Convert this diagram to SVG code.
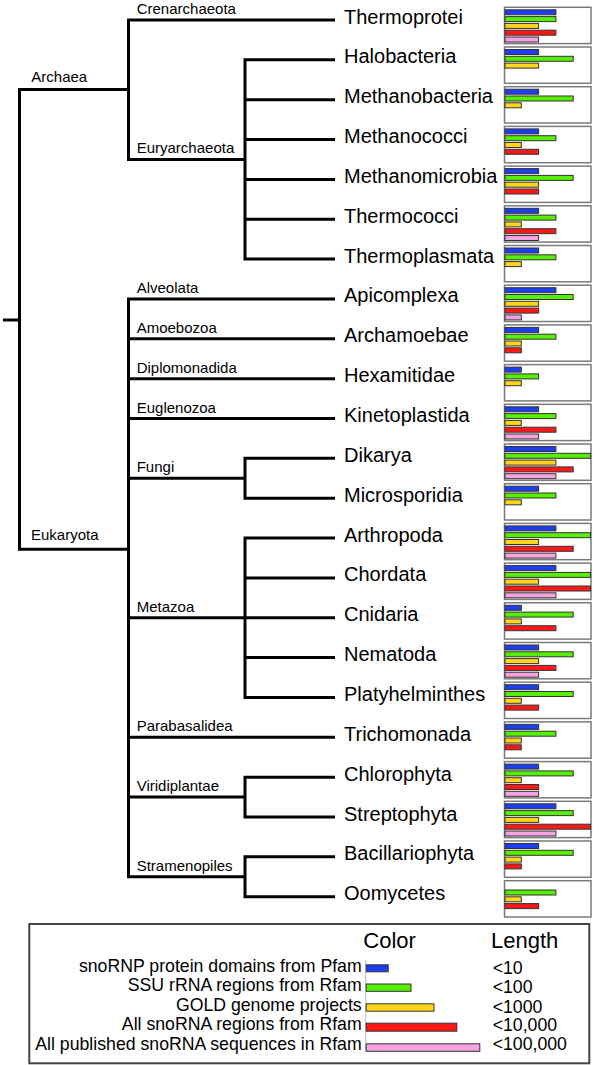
<svg xmlns="http://www.w3.org/2000/svg" width="600" height="1065" viewBox="0 0 600 1065">
<style>
text{font-family:"Liberation Sans",Arial,Helvetica,sans-serif;fill:#000}
.leaf{font-size:20px}
.clade{font-size:15px}
.lg{font-size:17.7px}
.hd{font-size:22px}
.tree path{fill:none;stroke:#000;stroke-width:3;stroke-linejoin:miter;stroke-linecap:butt}
.bx{fill:#fff;stroke:#7a7a7a;stroke-width:1.5}
.c1,.c2,.c3,.c4,.c5{stroke:#333;stroke-width:1}
.c1{fill:#1e3ff0}
.c2{fill:#55f000}
.c3{fill:#ffd51c}
.c4{fill:#ff1818}
.c5{fill:#f7a3e3}
</style>
<rect width="600" height="1065" fill="#fff"/>
<g id="connectors" class="tree">
<path d="M3,320 H19.5"/>
<path d="M128.5,89.5 H19.5 V549.3 H128.5"/>
<path d="M335,20 H128.5 V159.4 H245"/>
<path d="M335,59.85 H245 V259.1 H335"/>
<path d="M245,99.7 H335 M245,139.55 H335 M245,179.4 H335 M245,219.25 H335"/>
<path d="M335,298.95 H128.5 V876.7 H245"/>
<path d="M128.5,338.8 H335 M128.5,378.65 H335 M128.5,418.5 H335 M128.5,737.3 H335 M128.5,478.3 H245 M128.5,617.75 H335 M128.5,797.1 H245"/>
<path d="M335,458.35 H245 V498.2 H335"/>
<path d="M335,538.05 H245 V697.45 H335"/>
<path d="M245,577.9 H335 M245,657.6 H335"/>
<path d="M335,777.15 H245 V817 H335"/>
<path d="M335,856.85 H245 V896.7 H335"/>
</g>
<g id="clade-labels" class="clade">
<text x="31.3" y="82">Archaea</text>
<text x="31" y="540">Eukaryota</text>
<text x="136.7" y="14">Crenarchaeota</text>
<text x="136.7" y="153.4">Euryarchaeota</text>
<text x="136.7" y="293">Alveolata</text>
<text x="136.7" y="332.8">Amoebozoa</text>
<text x="136.7" y="372.7">Diplomonadida</text>
<text x="136.7" y="412.5">Euglenozoa</text>
<text x="136.7" y="472.3">Fungi</text>
<text x="136.7" y="611.8">Metazoa</text>
<text x="136.7" y="731.3">Parabasalidea</text>
<text x="136.7" y="791.1">Viridiplantae</text>
<text x="136.7" y="870.7">Stramenopiles</text>
</g>
<g id="thermoprotei"><text class="leaf" x="344" y="23.5">Thermoprotei</text><g transform="translate(504.5,7.3)"><rect class="bx" width="86.5" height="36.3"/><rect class="c1" x="0.5" y="2.5" width="50.9" height="5"/><rect class="c2" x="0.5" y="9.3" width="50.9" height="5"/><rect class="c3" x="0.5" y="16.1" width="33.6" height="5"/><rect class="c4" x="0.5" y="22.9" width="50.9" height="5"/><rect class="c5" x="0.5" y="29.7" width="33.6" height="5"/></g></g>
<g id="halobacteria"><text class="leaf" x="344" y="63.35">Halobacteria</text><g transform="translate(504.5,47)"><rect class="bx" width="86.5" height="36.3"/><rect class="c1" x="0.5" y="2.5" width="33.6" height="5"/><rect class="c2" x="0.5" y="9.3" width="68.2" height="5"/><rect class="c3" x="0.5" y="16.1" width="33.6" height="5"/></g></g>
<g id="methanobacteria"><text class="leaf" x="344" y="103.2">Methanobacteria</text><g transform="translate(504.5,86.7)"><rect class="bx" width="86.5" height="36.3"/><rect class="c1" x="0.5" y="2.5" width="33.6" height="5"/><rect class="c2" x="0.5" y="9.3" width="68.2" height="5"/><rect class="c3" x="0.5" y="16.1" width="16.3" height="5"/></g></g>
<g id="methanococci"><text class="leaf" x="344" y="143.05">Methanococci</text><g transform="translate(504.5,126.4)"><rect class="bx" width="86.5" height="36.3"/><rect class="c1" x="0.5" y="2.5" width="33.6" height="5"/><rect class="c2" x="0.5" y="9.3" width="50.9" height="5"/><rect class="c3" x="0.5" y="16.1" width="16.3" height="5"/><rect class="c4" x="0.5" y="22.9" width="33.6" height="5"/></g></g>
<g id="methanomicrobia"><text class="leaf" x="344" y="182.9">Methanomicrobia</text><g transform="translate(504.5,166.1)"><rect class="bx" width="86.5" height="36.3"/><rect class="c1" x="0.5" y="2.5" width="33.6" height="5"/><rect class="c2" x="0.5" y="9.3" width="68.2" height="5"/><rect class="c3" x="0.5" y="16.1" width="33.6" height="5"/><rect class="c4" x="0.5" y="22.9" width="33.6" height="5"/></g></g>
<g id="thermococci"><text class="leaf" x="344" y="222.75">Thermococci</text><g transform="translate(504.5,205.8)"><rect class="bx" width="86.5" height="36.3"/><rect class="c1" x="0.5" y="2.5" width="33.6" height="5"/><rect class="c2" x="0.5" y="9.3" width="50.9" height="5"/><rect class="c3" x="0.5" y="16.1" width="16.3" height="5"/><rect class="c4" x="0.5" y="22.9" width="50.9" height="5"/><rect class="c5" x="0.5" y="29.7" width="33.6" height="5"/></g></g>
<g id="thermoplasmata"><text class="leaf" x="344" y="262.6">Thermoplasmata</text><g transform="translate(504.5,245.5)"><rect class="bx" width="86.5" height="36.3"/><rect class="c1" x="0.5" y="2.5" width="33.6" height="5"/><rect class="c2" x="0.5" y="9.3" width="50.9" height="5"/><rect class="c3" x="0.5" y="16.1" width="16.3" height="5"/></g></g>
<g id="apicomplexa"><text class="leaf" x="344" y="302.45">Apicomplexa</text><g transform="translate(504.5,285.2)"><rect class="bx" width="86.5" height="36.3"/><rect class="c1" x="0.5" y="2.5" width="50.9" height="5"/><rect class="c2" x="0.5" y="9.3" width="68.2" height="5"/><rect class="c3" x="0.5" y="16.1" width="33.6" height="5"/><rect class="c4" x="0.5" y="22.9" width="33.6" height="5"/><rect class="c5" x="0.5" y="29.7" width="16.3" height="5"/></g></g>
<g id="archamoebae"><text class="leaf" x="344" y="342.3">Archamoebae</text><g transform="translate(504.5,324.9)"><rect class="bx" width="86.5" height="36.3"/><rect class="c1" x="0.5" y="2.5" width="33.6" height="5"/><rect class="c2" x="0.5" y="9.3" width="50.9" height="5"/><rect class="c3" x="0.5" y="16.1" width="16.3" height="5"/><rect class="c4" x="0.5" y="22.9" width="16.3" height="5"/></g></g>
<g id="hexamitidae"><text class="leaf" x="344" y="382.15">Hexamitidae</text><g transform="translate(504.5,364.6)"><rect class="bx" width="86.5" height="36.3"/><rect class="c1" x="0.5" y="2.5" width="16.3" height="5"/><rect class="c2" x="0.5" y="9.3" width="33.6" height="5"/><rect class="c3" x="0.5" y="16.1" width="16.3" height="5"/></g></g>
<g id="kinetoplastida"><text class="leaf" x="344" y="422">Kinetoplastida</text><g transform="translate(504.5,404.3)"><rect class="bx" width="86.5" height="36.3"/><rect class="c1" x="0.5" y="2.5" width="33.6" height="5"/><rect class="c2" x="0.5" y="9.3" width="50.9" height="5"/><rect class="c3" x="0.5" y="16.1" width="16.3" height="5"/><rect class="c4" x="0.5" y="22.9" width="50.9" height="5"/><rect class="c5" x="0.5" y="29.7" width="33.6" height="5"/></g></g>
<g id="dikarya"><text class="leaf" x="344" y="461.85">Dikarya</text><g transform="translate(504.5,444)"><rect class="bx" width="86.5" height="36.3"/><rect class="c1" x="0.5" y="2.5" width="50.9" height="5"/><rect class="c2" x="0.5" y="9.3" width="85.5" height="5"/><rect class="c3" x="0.5" y="16.1" width="50.9" height="5"/><rect class="c4" x="0.5" y="22.9" width="68.2" height="5"/><rect class="c5" x="0.5" y="29.7" width="50.9" height="5"/></g></g>
<g id="microsporidia"><text class="leaf" x="344" y="501.7">Microsporidia</text><g transform="translate(504.5,483.7)"><rect class="bx" width="86.5" height="36.3"/><rect class="c1" x="0.5" y="2.5" width="33.6" height="5"/><rect class="c2" x="0.5" y="9.3" width="50.9" height="5"/><rect class="c3" x="0.5" y="16.1" width="16.3" height="5"/></g></g>
<g id="arthropoda"><text class="leaf" x="344" y="541.55">Arthropoda</text><g transform="translate(504.5,523.4)"><rect class="bx" width="86.5" height="36.3"/><rect class="c1" x="0.5" y="2.5" width="50.9" height="5"/><rect class="c2" x="0.5" y="9.3" width="85.5" height="5"/><rect class="c3" x="0.5" y="16.1" width="33.6" height="5"/><rect class="c4" x="0.5" y="22.9" width="68.2" height="5"/><rect class="c5" x="0.5" y="29.7" width="50.9" height="5"/></g></g>
<g id="chordata"><text class="leaf" x="344" y="581.4">Chordata</text><g transform="translate(504.5,563.1)"><rect class="bx" width="86.5" height="36.3"/><rect class="c1" x="0.5" y="2.5" width="50.9" height="5"/><rect class="c2" x="0.5" y="9.3" width="85.5" height="5"/><rect class="c3" x="0.5" y="16.1" width="33.6" height="5"/><rect class="c4" x="0.5" y="22.9" width="85.5" height="5"/><rect class="c5" x="0.5" y="29.7" width="50.9" height="5"/></g></g>
<g id="cnidaria"><text class="leaf" x="344" y="621.25">Cnidaria</text><g transform="translate(504.5,602.8)"><rect class="bx" width="86.5" height="36.3"/><rect class="c1" x="0.5" y="2.5" width="16.3" height="5"/><rect class="c2" x="0.5" y="9.3" width="68.2" height="5"/><rect class="c3" x="0.5" y="16.1" width="16.3" height="5"/><rect class="c4" x="0.5" y="22.9" width="50.9" height="5"/></g></g>
<g id="nematoda"><text class="leaf" x="344" y="661.1">Nematoda</text><g transform="translate(504.5,642.5)"><rect class="bx" width="86.5" height="36.3"/><rect class="c1" x="0.5" y="2.5" width="33.6" height="5"/><rect class="c2" x="0.5" y="9.3" width="68.2" height="5"/><rect class="c3" x="0.5" y="16.1" width="33.6" height="5"/><rect class="c4" x="0.5" y="22.9" width="50.9" height="5"/><rect class="c5" x="0.5" y="29.7" width="33.6" height="5"/></g></g>
<g id="platyhelminthes"><text class="leaf" x="344" y="700.95">Platyhelminthes</text><g transform="translate(504.5,682.2)"><rect class="bx" width="86.5" height="36.3"/><rect class="c1" x="0.5" y="2.5" width="33.6" height="5"/><rect class="c2" x="0.5" y="9.3" width="68.2" height="5"/><rect class="c3" x="0.5" y="16.1" width="16.3" height="5"/><rect class="c4" x="0.5" y="22.9" width="33.6" height="5"/></g></g>
<g id="trichomonada"><text class="leaf" x="344" y="740.8">Trichomonada</text><g transform="translate(504.5,721.9)"><rect class="bx" width="86.5" height="36.3"/><rect class="c1" x="0.5" y="2.5" width="33.6" height="5"/><rect class="c2" x="0.5" y="9.3" width="50.9" height="5"/><rect class="c3" x="0.5" y="16.1" width="16.3" height="5"/><rect class="c4" x="0.5" y="22.9" width="16.3" height="5"/></g></g>
<g id="chlorophyta"><text class="leaf" x="344" y="780.65">Chlorophyta</text><g transform="translate(504.5,761.6)"><rect class="bx" width="86.5" height="36.3"/><rect class="c1" x="0.5" y="2.5" width="33.6" height="5"/><rect class="c2" x="0.5" y="9.3" width="68.2" height="5"/><rect class="c3" x="0.5" y="16.1" width="16.3" height="5"/><rect class="c4" x="0.5" y="22.9" width="33.6" height="5"/><rect class="c5" x="0.5" y="29.7" width="33.6" height="5"/></g></g>
<g id="streptophyta"><text class="leaf" x="344" y="820.5">Streptophyta</text><g transform="translate(504.5,801.3)"><rect class="bx" width="86.5" height="36.3"/><rect class="c1" x="0.5" y="2.5" width="50.9" height="5"/><rect class="c2" x="0.5" y="9.3" width="68.2" height="5"/><rect class="c3" x="0.5" y="16.1" width="33.6" height="5"/><rect class="c4" x="0.5" y="22.9" width="85.5" height="5"/><rect class="c5" x="0.5" y="29.7" width="50.9" height="5"/></g></g>
<g id="bacillariophyta"><text class="leaf" x="344" y="860.35">Bacillariophyta</text><g transform="translate(504.5,841)"><rect class="bx" width="86.5" height="36.3"/><rect class="c1" x="0.5" y="2.5" width="33.6" height="5"/><rect class="c2" x="0.5" y="9.3" width="68.2" height="5"/><rect class="c3" x="0.5" y="16.1" width="16.3" height="5"/><rect class="c4" x="0.5" y="22.9" width="16.3" height="5"/></g></g>
<g id="oomycetes"><text class="leaf" x="344" y="900.2">Oomycetes</text><g transform="translate(504.5,880.7)"><rect class="bx" width="86.5" height="36.3"/><rect class="c2" x="0.5" y="9.3" width="50.9" height="5"/><rect class="c3" x="0.5" y="16.1" width="16.3" height="5"/><rect class="c4" x="0.5" y="22.9" width="33.6" height="5"/></g></g>
<g id="legend">
<rect x="29.3" y="924" width="560" height="139.3" fill="#fff" stroke="#444" stroke-width="2"/>
<text class="hd" x="363.3" y="947.7">Color</text>
<text class="hd" x="491" y="947.7">Length</text>
<line x1="365.7" y1="960" x2="365.7" y2="1051" stroke="#bbb" stroke-width="1"/>
<g class="lg" text-anchor="end">
<text x="361.7" y="971.7">snoRNP protein domains from Pfam</text>
<text x="361.7" y="991.1">SSU rRNA regions from Rfam</text>
<text x="361.7" y="1010.6">GOLD genome projects</text>
<text x="361.7" y="1030.1">All snoRNA regions from Rfam</text>
<text x="361.7" y="1049.6">All published snoRNA sequences in Rfam</text>
</g>
<rect class="c1" x="366.2" y="964.8" width="22" height="7"/>
<rect class="c2" x="366.2" y="984" width="44.8" height="7.3"/>
<rect class="c3" x="366.2" y="1003.8" width="67.8" height="7.4"/>
<rect class="c4" x="366.2" y="1023.2" width="90.6" height="8"/>
<rect class="c5" x="366.2" y="1043.8" width="113.6" height="7.5"/>
<g class="lg">
<text x="492.7" y="974">&lt;10</text>
<text x="492.7" y="993.3">&lt;100</text>
<text x="492.7" y="1012.7">&lt;1000</text>
<text x="492.7" y="1030.8">&lt;10,000</text>
<text x="492.7" y="1050">&lt;100,000</text>
</g>
</g>
</svg>
